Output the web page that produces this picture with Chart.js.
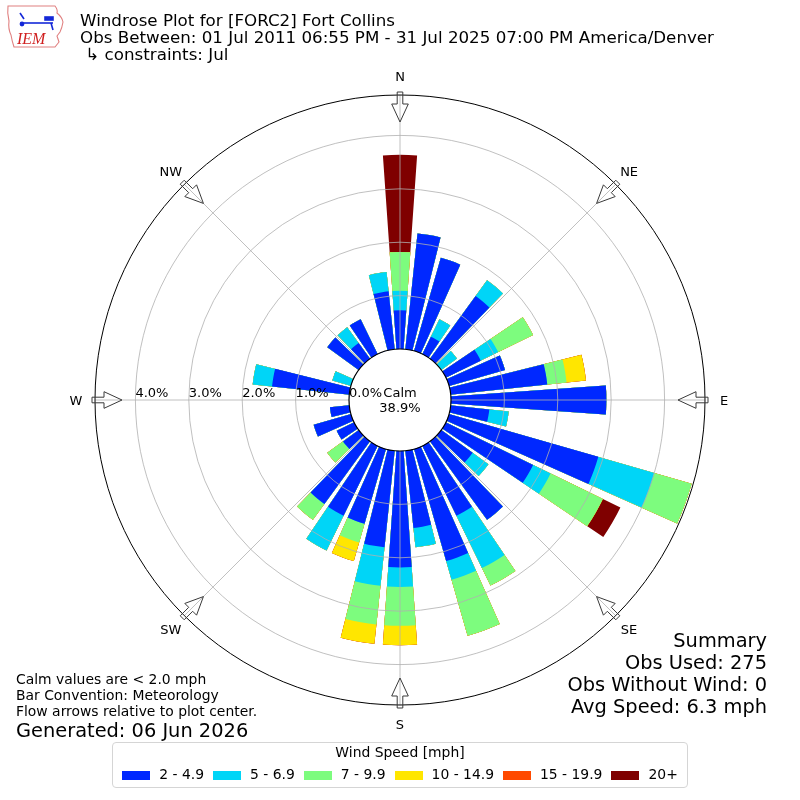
<!DOCTYPE html>
<html>
<head>
<meta charset="utf-8">
<title>Windrose Plot for [FORC2] Fort Collins</title>
<script src="https://cdn.jsdelivr.net/npm/chart.js@4.4.1/dist/chart.umd.min.js"></script>
<style>
  html, body { margin: 0; padding: 0; background: #fff; }
  #page { position: relative; width: 800px; height: 800px; overflow: hidden; font-family: "DejaVu Sans", sans-serif; color: #000; }
  #rose { position: absolute; left: 0; top: 0; }
  .txt { position: absolute; white-space: pre; line-height: 1; }
  #legend { position: absolute; left: 112px; top: 742px; width: 576px; height: 46px; box-sizing: border-box;
            border: 1px solid #d5d5d5; border-radius: 4px; font-size: 13.9px; }
  #legend .lt { position: absolute; left: 0; right: 0; top: 3px; text-align: center; line-height: 1; }
  #legend .row { position: absolute; left: 0; right: 0; top: 25px; height: 14px; display: flex; justify-content: center; align-items: center; line-height: 1; }
  #legend .sw { width: 28px; height: 9px; margin-right: 9px; }
  #legend .item { display: flex; align-items: center; margin-right: 9px; }
  #legend .item:last-child { margin-right: 0; }
</style>
</head>
<body>
<div id="page">
  <canvas id="rose" width="800" height="800"></canvas>
  <svg id="logo" width="62" height="46" viewBox="0 0 62 46" style="position:absolute;left:5px;top:4px">
    <path d="M3,2 L50,2 Q53,6 52,9 Q57,13 58,18 Q57,24 55,28 L52,32 L54,38 L50,43 L9,43 Q7,37 6,31 Q3,25 4,17 Q2,9 3,2 Z"
          fill="none" stroke="#e08080" stroke-width="1.1"/>
    <g stroke="#1428d8" stroke-width="1.6" fill="#1428d8">
      <line x1="19" y1="19" x2="48" y2="19"/>
      <line x1="15" y1="9" x2="19" y2="15"/>
      <circle cx="17" cy="20" r="1.6"/>
      <rect x="40" y="13" width="8" height="3"/>
      <line x1="46" y1="19" x2="48" y2="26"/>
    </g>
    <text x="12" y="40" font-family="Liberation Serif" font-style="italic" font-size="16" fill="#d02020">IEM</text>
  </svg>
  <div id="legend">
    <div class="lt">Wind Speed [mph]</div>
    <div class="row" id="legendRow"></div>
  </div>
</div>
<script>
// wind directions, degrees clockwise from north
const bearings = [0, 10, 20, 30, 40, 50, 60, 70, 80, 90, 100, 110, 120, 130, 140, 150, 160, 170,
                  180, 190, 200, 210, 220, 230, 240, 250, 260, 270, 280, 290, 300, 310, 320, 330, 340, 350];
const compass = ['N', 'NE', 'E', 'SE', 'S', 'SW', 'W', 'NW'];
const speedBins = ['2 - 4.9', '5 - 6.9', '7 - 9.9', '10 - 14.9', '15 - 19.9', '20+'];

// percent of all obs, per direction, for each speed bin
const pct2to5 = [0.727, 2.182, 1.818, 0.364, 1.455, 0, 0.727, 1.091, 1.818, 2.909,
                 0.727, 2.909, 1.818, 0.727, 1.818, 1.455, 2.182, 1.455, 2.182, 1.818,
                 1.455, 1.455, 1.455, 0.364, 0.364, 0.727, 0.364, 0, 1.455, 0,
                 0, 0.727, 0.364, 0.727, 0, 1.091];
const pct5to7 = [0.364, 0, 0, 0.364, 0.364, 0.364, 0.364, 0, 0, 0,
                 0.364, 1.091, 0.364, 0.364, 0, 1.091, 0.364, 0.364, 0.364, 0.727,
                 0, 0.727, 0, 0, 0, 0, 0, 0, 0.364, 0.364,
                 0, 0, 0.364, 0, 0, 0.364];
const pct7to10 = [0.727, 0, 0, 0, 0, 0, 0.727, 0, 0.364, 0,
                  0, 0.727, 1.091, 0, 0, 0.364, 1.091, 0, 0.727, 0.727,
                  0.364, 0, 0.364, 0.364, 0, 0, 0, 0, 0, 0,
                  0, 0, 0, 0, 0, 0];
const pct10to15 = [0, 0, 0, 0, 0, 0, 0, 0, 0.364, 0,
                   0, 0, 0, 0, 0, 0, 0, 0, 0.364, 0.364,
                   0.364, 0, 0, 0, 0, 0, 0, 0, 0, 0,
                   0, 0, 0, 0, 0, 0];
const pct15to20 = [0, 0, 0, 0, 0, 0, 0, 0, 0, 0,
                   0, 0, 0, 0, 0, 0, 0, 0, 0, 0,
                   0, 0, 0, 0, 0, 0, 0, 0, 0, 0,
                   0, 0, 0, 0, 0, 0];
const pct20plus = [1.818, 0, 0, 0, 0, 0, 0, 0, 0, 0,
                   0, 0, 0.364, 0, 0, 0, 0, 0, 0, 0,
                   0, 0, 0, 0, 0, 0, 0, 0, 0, 0,
                   0, 0, 0, 0, 0, 0];
const calmPct = 38.9;
const rTicks = [0, 1, 2, 3, 4];

const binColors = ['#0028ff', '#00d5f7', '#7dfc7e', '#ffe600', '#ff4a00', '#7f0000'];

// stack the bins: each dataset holds the running total, smallest drawn on top
const series = [pct2to5, pct5to7, pct7to10, pct10to15, pct15to20, pct20plus];
const stacks = [];
series.forEach((vals, b) => {
    stacks.push(vals.map((v, d) => v + (b ? stacks[b - 1][d] : 0)));
});

// every direction is a bar slot (8 deg) followed by an empty gap slot (2 deg)
const labels = [];
bearings.forEach(b => labels.push(b + '°', ''));

const datasets = stacks.map((cum, b) => ({
    label: speedBins[b],
    data: cum.flatMap(v => [v, 0]),
    backgroundColor: ctx => (ctx.dataIndex % 2 ? 'rgba(0,0,0,0)' : binColors[b]),
    borderWidth: 0,
    angle: ctx => (ctx.dataIndex % 2 ? 2 : 8)
}));

// compass arrows, calm circle and the text inside the rose
const roseFrame = {
    id: 'roseFrame',
    afterDraw(chart) {
        const s = chart.scales.r;
        const ctx = chart.ctx;
        const at = (bearing, dist) => {
            const a = (bearing - 90) * Math.PI / 180;
            return { x: s.xCenter + Math.cos(a) * dist, y: s.yCenter + Math.sin(a) * dist };
        };
        const rOut = s.getDistanceFromCenterForValue(s.max);
        const rCalm = s.getDistanceFromCenterForValue(0);
        ctx.save();

        // spokes
        ctx.strokeStyle = '#b0b0b0';
        ctx.lineWidth = 0.8;
        compass.forEach((name, k) => {
            const p = at(k * 45, rOut);
            ctx.beginPath();
            ctx.moveTo(s.xCenter, s.yCenter);
            ctx.lineTo(p.x, p.y);
            ctx.stroke();
        });

        // outer frame
        ctx.strokeStyle = '#000';
        ctx.lineWidth = 1;
        ctx.beginPath();
        ctx.arc(s.xCenter, s.yCenter, rOut, 0, Math.PI * 2);
        ctx.stroke();

        // hollow arrows pointing at the centre
        ctx.strokeStyle = '#3a3a3a';
        ctx.lineWidth = 1;
        compass.forEach((name, k) => {
            const b = k * 45;
            const rad = b * Math.PI / 180;
            const nx = Math.cos(rad), ny = Math.sin(rad);
            const outline = [[rOut + 3, -2.8], [rOut - 9, -2.8], [rOut - 9, -8.3], [rOut - 27, 0],
                             [rOut - 9, 8.3], [rOut - 9, 2.8], [rOut + 3, 2.8]];
            ctx.beginPath();
            outline.forEach(([u, v], i) => {
                const p = at(b, u);
                const x = p.x + v * nx, y = p.y + v * ny;
                if (i === 0) ctx.moveTo(x, y); else ctx.lineTo(x, y);
            });
            ctx.closePath();
            ctx.stroke();
        });

        // calm circle
        ctx.fillStyle = '#fff';
        ctx.strokeStyle = '#000';
        ctx.lineWidth = 1.2;
        ctx.beginPath();
        ctx.arc(s.xCenter, s.yCenter, rCalm, 0, Math.PI * 2);
        ctx.fill();
        ctx.stroke();

        ctx.fillStyle = '#000';
        ctx.font = '13px "DejaVu Sans"';
        ctx.textBaseline = 'alphabetic';
        ctx.textAlign = 'center';
        ctx.fillText('Calm', s.xCenter, s.yCenter - 3);
        ctx.fillText(calmPct.toFixed(1) + '%', s.xCenter, s.yCenter + 12);

        // radial tick labels along the west side
        ctx.textAlign = 'left';
        rTicks.forEach(v => {
            const p = at(270, s.getDistanceFromCenterForValue(v));
            ctx.fillText(v.toFixed(1) + '%', p.x, p.y - 3);
        });

        // compass names
        ctx.textAlign = 'center';
        compass.forEach((name, k) => {
            const p = at(k * 45, rOut + 19);
            ctx.fillText(name, p.x, p.y + 4.7);
        });
        ctx.restore();
    }
};

new Chart(document.getElementById('rose'), {
    type: 'polarArea',
    data: { labels: labels, datasets: datasets },
    options: {
        responsive: false,
        animation: false,
        layout: { padding: 95 },
        plugins: { legend: { display: false }, tooltip: { enabled: false } },
        scales: {
            r: {
                // 0% sits on the calm circle, 1% every ~53 px
                min: -0.955,
                max: 4.757,
                startAngle: -4,
                afterBuildTicks: scale => {
                    scale.ticks = rTicks.slice(1).map(v => ({ value: v }));
                },
                ticks: { display: false },
                pointLabels: { display: false },
                angleLines: { display: false },
                grid: { circular: true, color: '#b0b0b0', lineWidth: 0.8, z: 1 }
            }
        }
    },
    plugins: [roseFrame]
});

// text around the chart
const page = document.getElementById('page');
const place = (text, x, baseline, size, align) => {
    const el = document.createElement('div');
    el.className = 'txt';
    el.textContent = text;
    el.style.fontSize = size + 'px';
    el.style.top = (baseline - 0.846 * size) + 'px';
    if (align === 'right') el.style.right = (800 - x) + 'px'; else el.style.left = x + 'px';
    page.appendChild(el);
};
place('Windrose Plot for [FORC2] Fort Collins', 80, 26.5, 16.7);
place('Obs Between: 01 Jul 2011 06:55 PM - 31 Jul 2025 07:00 PM America/Denver', 80, 43.3, 16.7);
place(' ↳ constraints: Jul', 80, 60, 16.7);

place('Calm values are < 2.0 mph', 16, 685, 13.9);
place('Bar Convention: Meteorology', 16, 701, 13.9);
place('Flow arrows relative to plot center.', 16, 717, 13.9);
place('Generated: 06 Jun 2026', 16, 737, 19.4);

place('Summary', 767, 647, 19.4, 'right');
place('Obs Used: 275', 767, 669, 19.4, 'right');
place('Obs Without Wind: 0', 767, 691, 19.4, 'right');
place('Avg Speed: 6.3 mph', 767, 713, 19.4, 'right');

const row = document.getElementById('legendRow');
speedBins.forEach((name, b) => {
    const item = document.createElement('div');
    item.className = 'item';
    const sw = document.createElement('div');
    sw.className = 'sw';
    sw.style.background = binColors[b];
    const lab = document.createElement('span');
    lab.textContent = name;
    item.appendChild(sw);
    item.appendChild(lab);
    row.appendChild(item);
});
</script>
</body>
</html>
